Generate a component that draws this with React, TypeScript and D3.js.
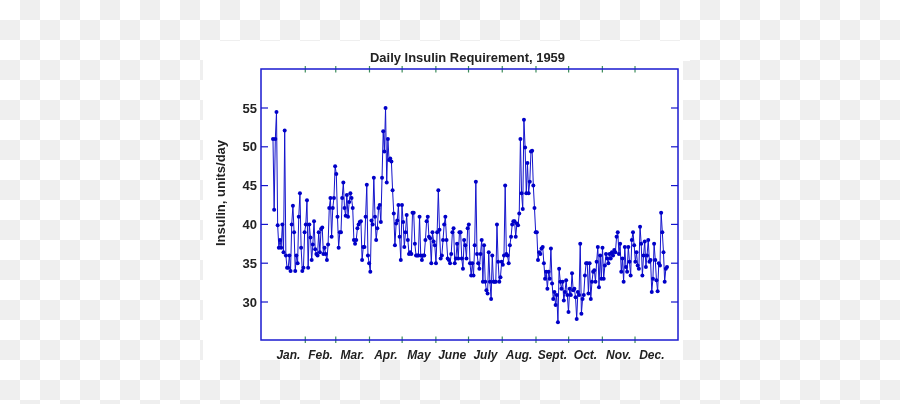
import React from "react";
import * as d3 from "d3";

// ---- data ----
const insulinJanMar = [
  51.0, 41.9, 51.0, 54.5, 39.9, 37.0, 38.0, 37.0, 40.0, 36.4, 52.1, 36.0, 34.4, 34.4, 36.0, 34.0,
  40.0, 42.4, 39.0, 34.0, 36.0, 35.0, 41.0, 44.0, 37.0, 34.0, 34.4, 39.0, 40.0, 43.1, 34.4, 40.0,
  38.3, 35.4, 37.4, 40.4, 36.8, 36.2, 36.0, 39.0, 36.4, 39.4, 39.6, 36.2, 37.0, 36.2, 35.4, 37.4,
  42.1, 43.4, 38.4, 42.1, 43.4, 47.5, 46.5, 41.0, 37.0, 39.0, 39.0, 43.4, 45.4, 42.1, 41.1, 43.8,
];
const insulinMarMay = [
  41.0, 42.9, 44.0, 43.4, 42.1, 38.0, 37.5, 38.0, 39.5, 40.0, 40.3, 40.4, 35.4, 37.1, 37.1, 41.0,
  45.1, 36.0, 35.0, 33.9, 40.5, 40.0, 46.0, 41.0, 38.0, 39.5, 42.1, 42.5, 40.3, 46.0, 52.0, 49.4,
  55.0, 45.4, 51.0, 48.3, 48.5, 48.1, 44.4, 41.4, 37.3, 40.1, 40.5, 42.5, 38.4, 35.4, 42.5, 40.3,
  37.1, 39.0, 41.2, 38.0, 36.2, 36.4, 36.2, 41.5, 41.5, 37.5, 36.0, 36.0, 36.0, 41.0, 36.0, 35.4,
  36.0, 36.0, 38.0, 40.4, 41.0, 38.4, 38.2, 35.0, 39.0, 37.8,
];
const insulinMayAug = [
  37.3, 35.0, 39.0, 44.4, 39.3, 35.6, 36.0, 38.0, 40.0, 41.0, 38.0, 35.6, 35.4, 35.0, 36.2, 39.0,
  39.5, 35.0, 35.6, 37.5, 35.6, 39.0, 39.0, 35.6, 34.3, 38.0, 37.3, 35.6, 39.5, 40.0, 35.0, 33.4,
  35.0, 33.4, 37.3, 45.5, 36.2, 35.0, 34.3, 36.2, 38.0, 32.6, 37.3, 32.6, 31.5, 31.1, 36.4, 32.6,
  30.4, 36.0, 32.6, 32.6, 32.6, 40.0, 35.2, 32.6, 33.2, 35.2, 34.8, 36.0, 45.0, 36.2, 36.0, 35.0,
  37.3, 38.4, 40.0, 40.4, 40.4,
];
const insulinAugOct = [
  38.4, 40.1, 39.9, 41.4, 51.0, 44.0, 42.0, 53.5, 49.9, 44.0, 47.9, 44.0, 45.5, 49.4, 49.5, 45.0,
  42.1, 39.0, 39.0, 35.4, 36.4, 36.2, 36.9, 37.1, 35.0, 33.0, 33.9, 31.7, 33.9, 33.0, 36.9, 32.4,
  30.4, 31.3, 29.6, 30.9, 27.4, 34.3, 32.6, 31.7, 32.6, 30.2, 31.3, 32.8, 30.9, 28.7, 31.7, 30.9,
  33.7, 31.5, 31.7, 30.6, 27.8, 31.3, 30.9, 37.5, 28.5, 30.4, 30.9, 33.4, 35.0, 35.0, 31.1, 35.0,
  30.4, 32.6, 33.9, 34.1, 32.6, 35.2, 37.1,
];
const insulinOctDec = [
  31.9, 36.0, 33.0, 37.0, 33.0, 34.7, 36.2, 35.6, 35.0, 36.2, 35.6, 36.4, 36.0, 36.7, 36.4, 38.4,
  39.0, 36.2, 37.5, 33.9, 35.6, 32.6, 37.1, 34.5, 33.9, 37.1, 35.2, 33.4, 38.0, 39.0, 37.3, 35.2,
  36.4, 34.7, 34.3, 39.7, 37.5, 33.4, 36.0, 37.8, 34.5, 36.0, 38.0, 35.2, 35.4, 31.3, 33.0, 37.5,
  35.4, 32.8, 31.4, 35.0, 34.7, 41.5, 39.0, 36.4, 32.6, 34.3, 34.5,
];
const insulin = [...insulinJanMar, ...insulinMarMay, ...insulinMayAug, ...insulinAugOct, ...insulinOctDec];

const monthLabels = ["Jan.", "Feb.", "Mar.", "Apr.", "May", "June", "July", "Aug.", "Sept.", "Oct.", "Nov.", "Dec."];
const monthStartDays = [0, 31, 59, 90, 120, 151, 181, 212, 243, 273, 304, 334, 365];
const yTicks = [30, 35, 40, 45, 50, 55];
const firstDay = 1.3;
const lastDay = 363.4;
const title = "Daily Insulin Requirement, 1959";
const yLabel = "Insulin, units/day";

export default function App() {
  const W = 900, H = 404;
  const left = 261, right = 678, top = 69, bottom = 340;
  const x = d3.scaleLinear().domain([-9.7, 373.5]).range([left, right]);
  const y = d3.scaleLinear().domain([25, 60]).range([340.8, 69.2]);
  const idx = d3.scaleLinear().domain([0, insulin.length - 1]).range([firstDay, lastDay]);
  const pts = insulin.map((v, i) => [x(idx(i)), y(v)] as [number, number]);
  const line = d3.line()(pts) || "";
  const blue = "#1414cc";
  const green = "#3c8c5c";
  const font = "'Liberation Sans', Arial, sans-serif";

  return (
    <svg width={W} height={H} style={{ position: "fixed", left: 0, top: 0 }} xmlns="http://www.w3.org/2000/svg">
      <defs>
        <pattern id="chk" width={40} height={40} patternUnits="userSpaceOnUse">
          <rect width={40} height={40} fill="#ffffff" />
          <rect x={20} y={0} width={20} height={20} fill="#efefef" />
          <rect x={0} y={20} width={20} height={20} fill="#efefef" />
        </pattern>
      </defs>
      <rect width={W} height={H} fill="url(#chk)" />
      <rect x={203} y={57} width={480} height={303} fill="#fff" />
      <rect x={220} y={41} width={470} height={20} fill="#fff" />

      <text x={467.5} y={62} textAnchor="middle" fontFamily={font} fontWeight="bold" fontSize={13.5}
        fill="#222" textLength={195} lengthAdjust="spacingAndGlyphs">{title}</text>

      {/* y ticks */}
      {yTicks.map((t) => (
        <g key={t}>
          <line x1={left} x2={left + 7} y1={y(t)} y2={y(t)} stroke={blue} strokeWidth={1.2} />
          <line x1={right - 7} x2={right} y1={y(t)} y2={y(t)} stroke={blue} strokeWidth={1.2} />
          <text x={257} y={y(t) + 4.5} textAnchor="end" fontFamily={font} fontWeight="bold" fontSize={13} fill="#222">{t}</text>
        </g>
      ))}

      {/* month boundary ticks */}
      {monthStartDays.slice(1, 12).map((d) => (
        <g key={d}>
          <line x1={x(d)} x2={x(d)} y1={top - 3} y2={top + 3.5} stroke={green} strokeWidth={1.2} />
          <line x1={x(d)} x2={x(d)} y1={bottom - 3.5} y2={bottom + 3} stroke={green} strokeWidth={1.2} />
        </g>
      ))}

      {monthLabels.map((m, i) => (
        <text key={m} x={x((monthStartDays[i] + monthStartDays[i + 1]) / 2)} y={359}
          textAnchor="middle" fontFamily={font} fontWeight="bold" fontStyle="italic" fontSize={12} fill="#222">{m}</text>
      ))}

      <text transform={`translate(225,193) rotate(-90)`} textAnchor="middle" fontFamily={font}
        fontWeight="bold" fontSize={13} fill="#222">{yLabel}</text>

      {/* data */}
      <path d={line} fill="none" stroke={blue} strokeWidth={1} />
      {pts.map((p, i) => (
        <circle key={i} cx={p[0]} cy={p[1]} r={2} fill="#0000c8" />
      ))}

      <rect x={left} y={top} width={right - left} height={bottom - top} fill="none" stroke="#1a1ad0" strokeWidth={1.5} />
    </svg>
  );
}
